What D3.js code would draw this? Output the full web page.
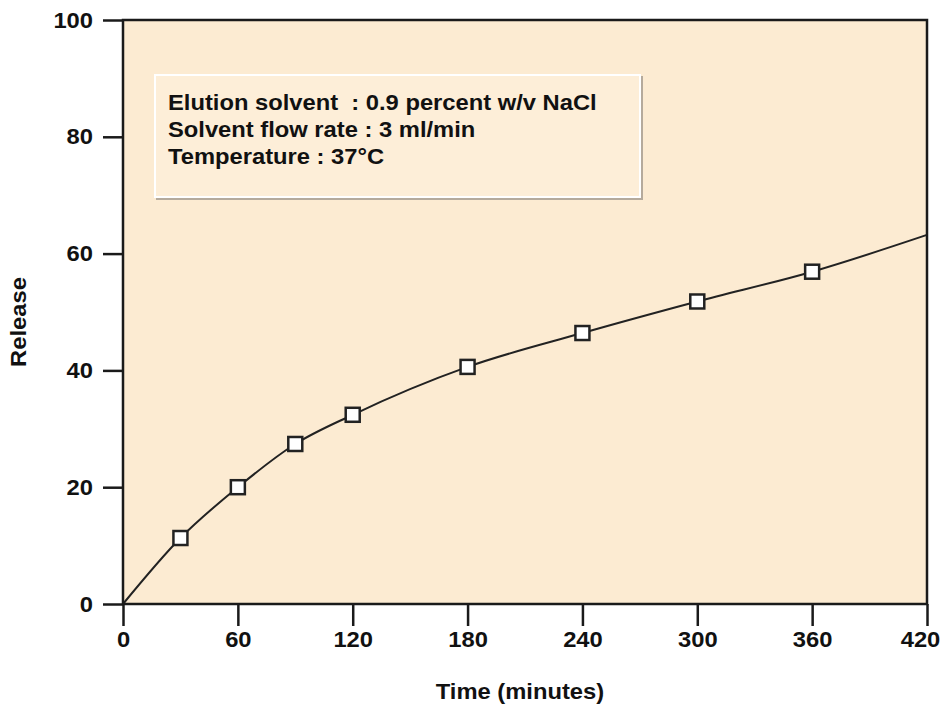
<!DOCTYPE html>
<html>
<head>
<meta charset="utf-8">
<script src="https://cdn.jsdelivr.net/npm/d3@7"></script>
<style>
    body { margin: 0; background: #fff; }
    text { font-family: "Liberation Sans", Arial, sans-serif; font-weight: bold; fill: #111; white-space: pre; }
    .wide { transform: scaleX(1.08); transform-box: fill-box; transform-origin: center; }
    .wide-r { transform: scaleX(1.08); transform-box: fill-box; transform-origin: right center; }
    .wide-l { transform: scaleX(1.08); transform-box: fill-box; transform-origin: left center; }
</style>
</head>
<body>
<div id="chart"></div>
<script>
'use strict';

// sampling times (minutes) and measured release
const times = [30, 60, 90, 120, 180, 240, 300, 360];
const release = [11.3, 20.0, 27.4, 32.4, 40.6, 46.4, 51.8, 56.9];

// fitted curve drawn through the points, from origin to the right edge
const curveTimes = [0, 30, 60, 90, 120, 180, 240, 300, 360, 420];
const curveRelease = [0, 11.3, 20.0, 27.4, 32.4, 40.6, 46.4, 51.8, 56.9, 63.2];

const xTicks = [0, 60, 120, 180, 240, 300, 360, 420];
const yTicks = [0, 20, 40, 60, 80, 100];

const infoLines = [
    'Elution solvent  : 0.9 percent w/v NaCl',
    'Solvent flow rate : 3 ml/min',
    'Temperature : 37°C'
];

const width = 943, height = 704;
const margin = { top: 20, right: 16, bottom: 100, left: 123 };
const innerW = width - margin.left - margin.right;
const innerH = height - margin.top - margin.bottom;

const svg = d3.select('#chart')
    .append('svg')
    .attr('width', width)
    .attr('height', height);

const chart = svg.append('g')
    .attr('transform', `translate(${margin.left},${margin.top})`);

const x = d3.scaleLinear().domain([0, 420]).range([0, innerW]);
const y = d3.scaleLinear().domain([0, 100]).range([innerH, 0]);

// plot background
chart.append('rect')
    .attr('width', innerW)
    .attr('height', innerH)
    .style('fill', '#fcebd2');

// info box
const box = chart.append('g').attr('transform', 'translate(32,55)');
box.append('rect')
    .attr('x', 2).attr('y', 2)
    .attr('width', 485).attr('height', 122)
    .style('fill', 'none')
    .style('stroke', '#b5aa9c')
    .style('stroke-width', 2);
box.append('rect')
    .attr('width', 485).attr('height', 122)
    .style('fill', '#fdeed8')
    .style('stroke', '#fff')
    .style('stroke-width', 2);
box.selectAll('text')
    .data(infoLines)
    .join('text')
    .classed('wide-l', true)
    .attr('x', 13)
    .attr('y', (d, i) => 35 + i * 27)
    .style('font-size', '22px')
    .text(d => d);

// curve
const line = d3.line()
    .x((d, i) => x(curveTimes[i]))
    .y(d => y(d))
    .curve(d3.curveMonotoneX);

chart.append('path')
    .datum(curveRelease)
    .attr('d', line)
    .style('fill', 'none')
    .style('stroke', '#222')
    .style('stroke-width', 2);

// markers
chart.selectAll('rect.marker')
    .data(release)
    .join('rect')
    .classed('marker', true)
    .attr('x', (d, i) => x(times[i]) - 7)
    .attr('y', d => y(d) - 7)
    .attr('width', 14)
    .attr('height', 14)
    .style('fill', '#fff')
    .style('stroke', '#222')
    .style('stroke-width', 2.5);

// frame
chart.append('rect')
    .attr('width', innerW)
    .attr('height', innerH)
    .style('fill', 'none')
    .style('stroke', '#1a1a1a')
    .style('stroke-width', 2.5);

// axes
const xAxis = chart.append('g')
    .attr('transform', `translate(0,${innerH})`)
    .call(d3.axisBottom(x).tickValues(xTicks).tickSize(22).tickPadding(5));

const yAxis = chart.append('g')
    .call(d3.axisLeft(y).tickValues(yTicks).tickSize(20).tickPadding(10));

[xAxis, yAxis].forEach(g => {
    g.select('.domain').remove();
    g.selectAll('.tick line').style('stroke', '#1a1a1a').style('stroke-width', 2.5);
    g.selectAll('.tick text')
        .style('font-size', '22px')
        .style('font-family', '"Liberation Sans", Arial, sans-serif')
        .style('font-weight', 'bold')
        .style('fill', '#111');
});
xAxis.selectAll('.tick text').classed('wide', true);
yAxis.selectAll('.tick text').classed('wide-r', true);
// keep the last label inside the page, as in the original
xAxis.selectAll('.tick text').filter(d => d === 420).attr('dx', -7);

// axis titles
svg.append('text')
    .classed('wide', true)
    .attr('x', 520)
    .attr('y', 699)
    .attr('text-anchor', 'middle')
    .style('font-size', '22px')
    .text('Time (minutes)');

svg.append('text')
    .attr('transform', 'translate(26,322) rotate(-90) scale(1.08,1)')
    .attr('text-anchor', 'middle')
    .style('font-size', '22px')
    .text('Release');
</script>
</body>
</html>
